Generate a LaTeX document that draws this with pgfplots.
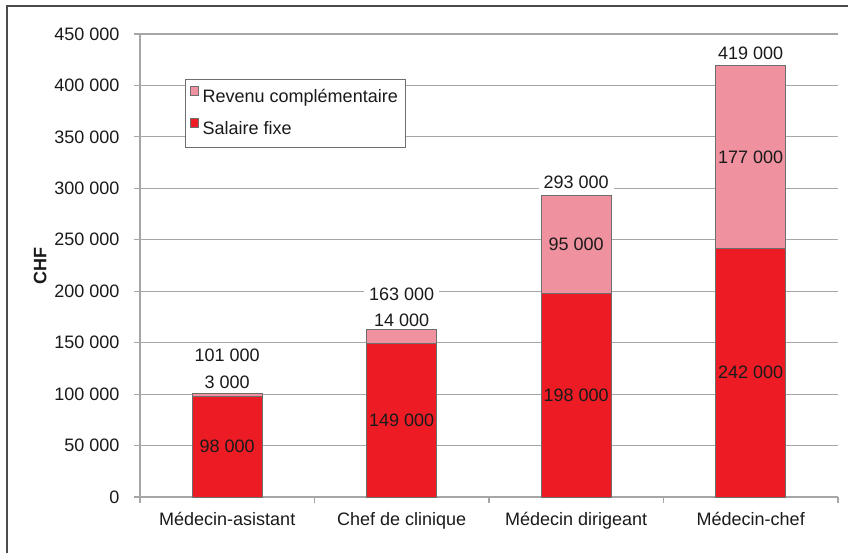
\documentclass[border=0pt]{standalone}
\usepackage{fontspec}
\setmainfont{Liberation Sans}
\usepackage{pgfplots}
\pgfplotsset{compat=1.18}
\definecolor{salred}{HTML}{ED1C24}
\definecolor{revpink}{HTML}{F0919F}
\definecolor{gridgray}{HTML}{A6A6A6}
\definecolor{txt}{HTML}{1A1A1A}
\definecolor{bardraw}{HTML}{6E6E6E}
\newcommand{\fs}{\fontsize{9}{11}\selectfont}
\begin{document}
\begin{tikzpicture}
\useasboundingbox (0,0) rectangle (424pt,276.5pt);
\fill[white] (0,0) rectangle (424pt,276.5pt);
\draw[line width=1pt, color=black!70] (3.5pt,0) -- (3.5pt,273.5pt) -- (424pt,273.5pt);
\pgfplotsset{
  common/.style={
    at={(70pt,28pt)}, anchor=south west,
    scale only axis, width=349pt, height=231.5pt,
    xmin=-0.5, xmax=3.5, ymin=0, ymax=450000,
  }
}
\begin{axis}[
  common,
  ybar stacked, bar width=35pt,
  axis x line*=bottom, axis y line*=left,
  axis line style={gridgray, line width=0.6pt},
  xtick={-0.5,0.5,1.5,2.5,3.5}, xticklabels={},
  extra x ticks={0,1,2,3},
  extra x tick labels={Médecin-asistant,Chef de clinique,Médecin dirigeant,Médecin-chef},
  extra x tick style={major tick length=0pt, xticklabel style={yshift=-4pt}},
  scaled y ticks=false,
  ytick={0,50000,100000,150000,200000,250000,300000,350000,400000,450000},
  yticklabels={0,50 000,100 000,150 000,200 000,250 000,300 000,350 000,400 000,450 000},
  yticklabel style={xshift=-4pt},
  ymajorgrids, grid style={gridgray, line width=0.6pt},
  tick style={gridgray, line width=0.6pt},
  major tick length=2.75pt, tick align=outside,
  ticklabel style={font=\fs, text=txt},
  ylabel={CHF},
  ylabel style={at={(axis description cs:-0.143,0.5)}, anchor=center, font=\bfseries\fs, text=txt},
  reverse legend,
  legend style={at={(0.0645,0.903)}, anchor=north west, draw=bardraw, line width=0.5pt,
    font=\fs, text=txt, row sep=4pt, inner xsep=2pt, inner ysep=3pt, cells={anchor=west}},
  legend image code/.code={\draw[#1, draw=bardraw, line width=0.4pt] (0pt,1.2pt) rectangle (4.2pt,5.4pt);},
]
\addplot[fill=salred, draw=bardraw, line width=0.5pt] coordinates {(0,98000) (1,149000) (2,198000) (3,242000)};
\addlegendentry{Salaire fixe}
\addplot[fill=revpink, draw=bardraw, line width=0.5pt] coordinates {(0,3000) (1,14000) (2,95000) (3,177000)};
\addlegendentry{Revenu complémentaire}
\end{axis}
\begin{axis}[
  common, hide axis,
  every node near coord/.append style={anchor=center, font=\fs, text=txt, inner sep=1.5pt},
]
\addplot[only marks, mark=none, nodes near coords, point meta=explicit symbolic]
  coordinates {(0,49000) [98 000] (1,74500) [149 000] (2,99000) [198 000] (3,121000) [242 000]
               (2,245500) [95 000] (3,330500) [177 000]};
\addplot[only marks, mark=none, nodes near coords, point meta=explicit symbolic,
  every node near coord/.append style={fill=white, inner xsep=2.5pt}]
  coordinates {(0,111800) [3 000] (0,138000) [101 000]
               (1,172000) [14 000] (1,197300) [163 000]
               (2,306000) [293 000] (3,431500) [419 000]};
\end{axis}
\end{tikzpicture}
\end{document}
